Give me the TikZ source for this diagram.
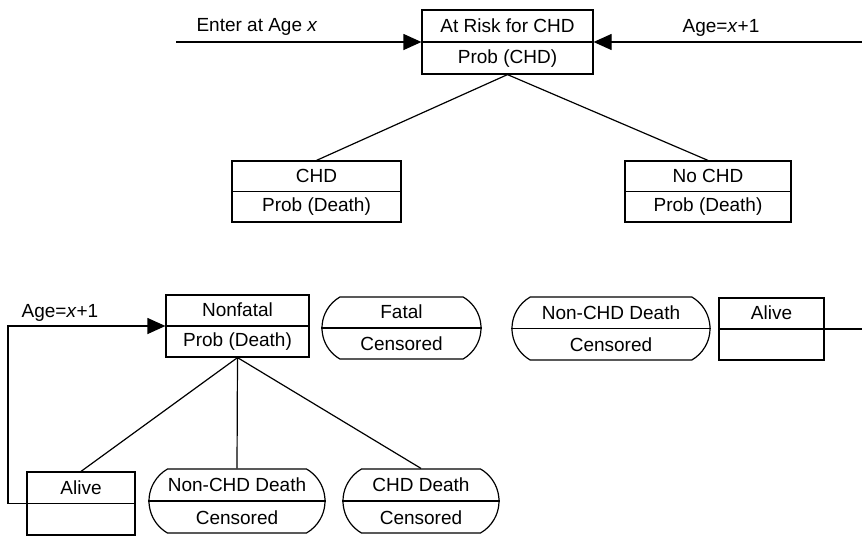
\documentclass[tikz,border=0pt]{standalone}
\usepackage{fontspec}
\setmainfont{Liberation Sans}
\usetikzlibrary{arrows.meta,shapes.misc,calc}
\tikzset{
  boxtwo/.style={draw, rectangle, inner sep=0pt, line width=1.2pt},
  roundtwo/.style={draw, rounded rectangle, rounded rectangle arc length=120, inner sep=0pt, line width=1.2pt},
  lbl/.style={inner sep=0pt, font=\fontsize{19}{21}\selectfont},
  conn/.style={line width=1.2pt},
  arr/.style={line width=1.2pt, -{Triangle[length=18pt,width=16pt]}}
}
\begin{document}
\begin{tikzpicture}[x=1pt,y=-1pt]
\useasboundingbox (0,0) rectangle (862,536);
% top
\node[boxtwo, minimum width=171pt, minimum height=64pt] (T) at (507.5,42) {};
\draw[conn] (T.west) -- (T.east);
\node[lbl] (Ta) at ($(T.north)!0.5!(T.center)$) {At Risk for CHD};
\node[lbl] (Tb) at ($(T.south)!0.5!(T.center)$) {Prob (CHD)};
\coordinate (Lin) at (176,42);
\coordinate (Rin) at (862,42);
\draw[arr] (Lin) -- (T.west);
\draw[arr] (Rin) -- (T.east);
\node[lbl] (Lenter) at (257,27) {Enter at Age \textit{x}};
\node[lbl] (Lage) at (721,28) {Age=\textit{x}+1};
% second row
\node[boxtwo, minimum width=169pt, minimum height=61pt] (C) at (316.5,191.5) {};
\draw[conn] (C.west) -- (C.east);
\node[lbl] at ($(C.north)!0.5!(C.center)$) {CHD};
\node[lbl] at ($(C.south)!0.5!(C.center)$) {Prob (Death)};
\node[boxtwo, minimum width=166pt, minimum height=61pt] (N) at (708,191.5) {};
\draw[conn] (N.west) -- (N.east);
\node[lbl] at ($(N.north)!0.5!(N.center)$) {No CHD};
\node[lbl] at ($(N.south)!0.5!(N.center)$) {Prob (Death)};
\draw[conn] (T.south) -- (C.north);
\draw[conn] (T.south) -- (N.north);
% third row
\node[boxtwo, minimum width=143pt, minimum height=62pt] (F) at (237.5,326) {};
\draw[conn] (F.west) -- (F.east);
\node[lbl] at ($(F.north)!0.5!(F.center)$) {Nonfatal};
\node[lbl] at ($(F.south)!0.5!(F.center)$) {Prob (Death)};
\node[roundtwo, minimum width=159pt, minimum height=62pt] (FT) at (401.5,328) {};
\draw[conn] (FT.west) -- (FT.east);
\node[lbl] at ($(FT.north)!0.5!(FT.center)$) {Fatal};
\node[lbl] at ($(FT.south)!0.5!(FT.center)$) {Censored};
\node[roundtwo, minimum width=198pt, minimum height=63pt] (NC) at (611,328.5) {};
\draw[conn] (NC.west) -- (NC.east);
\node[lbl] at ($(NC.north)!0.5!(NC.center)$) {Non-CHD Death};
\node[lbl] at ($(NC.south)!0.5!(NC.center)$) {Censored};
\node[boxtwo, minimum width=105pt, minimum height=62pt] (AL) at (771.5,329) {};
\draw[conn] (AL.west) -- (AL.east);
\node[lbl] at ($(AL.north)!0.5!(AL.center)$) {Alive};
\coordinate (Rout) at (862,329);
\draw[conn] (AL.east) -- (Rout);
% bottom row
\node[boxtwo, minimum width=108pt, minimum height=63pt] (A2) at (81,503.5) {};
\draw[conn] (A2.west) -- (A2.east);
\node[lbl] at ($(A2.north)!0.5!(A2.center)$) {Alive};
\node[roundtwo, minimum width=176pt, minimum height=64pt] (NC2) at (237,501) {};
\draw[conn] (NC2.west) -- (NC2.east);
\node[lbl] at ($(NC2.north)!0.5!(NC2.center)$) {Non-CHD Death};
\node[lbl] at ($(NC2.south)!0.5!(NC2.center)$) {Censored};
\node[roundtwo, minimum width=156pt, minimum height=64pt] (CD) at (421,501) {};
\draw[conn] (CD.west) -- (CD.east);
\node[lbl] at ($(CD.north)!0.5!(CD.center)$) {CHD Death};
\node[lbl] at ($(CD.south)!0.5!(CD.center)$) {Censored};
\draw[conn] (F.south) -- (A2.north);
\draw[conn] (F.south) -- (NC2.north);
\draw[conn] (F.south) -- (CD.north);
% loop back
\coordinate (Lp) at (8,503.5);
\draw[arr] (A2.west) -- (Lp) |- (F.west);
\node[lbl] (Lage2) at (60,313) {Age=\textit{x}+1};
\end{tikzpicture}
\end{document}
